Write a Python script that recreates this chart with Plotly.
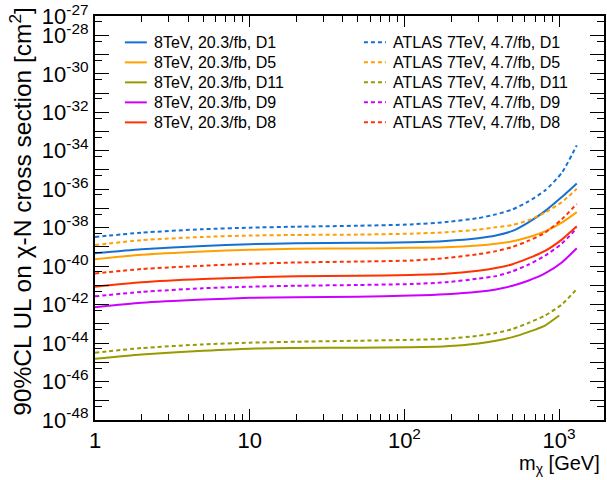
import numpy as np
import plotly.graph_objects as go

# ---- data (log10 of cross-section in cm^2) ----
masses = [1, 2, 5, 10, 20, 50, 110, 185, 300, 390, 500, 630, 810, 1040, 1300]
masses_d11_8tev = [1, 2, 5, 10, 20, 50, 110, 185, 300, 390, 500, 630, 810, 1000]

d1_8tev = [-39.33, -39.12, -38.95, -38.86, -38.81, -38.79, -38.76, -38.69, -38.55, -38.41, -38.17, -37.74, -37.14, -36.41, -35.70]
d5_8tev = [-39.64, -39.41, -39.24, -39.15, -39.10, -39.08, -39.05, -39.02, -38.93, -38.84, -38.71, -38.50, -38.19, -37.74, -37.19]
d11_8tev = [-44.81, -44.59, -44.40, -44.29, -44.26, -44.24, -44.22, -44.17, -44.02, -43.88, -43.69, -43.43, -43.09, -42.57]
d9_8tev = [-42.14, -41.91, -41.74, -41.65, -41.62, -41.59, -41.53, -41.46, -41.33, -41.21, -41.02, -40.76, -40.38, -39.81, -39.07]
d8_8tev = [-41.07, -40.84, -40.67, -40.59, -40.53, -40.50, -40.46, -40.40, -40.24, -40.10, -39.90, -39.60, -39.21, -38.62, -37.93]

d1_7tev = [-38.48, -38.26, -38.08, -38.00, -37.95, -37.90, -37.83, -37.71, -37.50, -37.31, -37.05, -36.65, -36.07, -35.15, -33.72]
d5_7tev = [-38.90, -38.65, -38.48, -38.41, -38.38, -38.36, -38.31, -38.24, -38.10, -37.98, -37.86, -37.62, -37.22, -36.67, -35.98]
d11_7tev = [-44.50, -44.26, -44.07, -43.98, -43.93, -43.88, -43.83, -43.78, -43.62, -43.48, -43.27, -42.96, -42.57, -42.00, -41.19]
d9_7tev = [-41.57, -41.34, -41.15, -41.07, -41.02, -40.98, -40.93, -40.84, -40.65, -40.52, -40.27, -39.93, -39.46, -38.83, -38.03]
d8_7tev = [-40.38, -40.15, -39.98, -39.88, -39.81, -39.76, -39.71, -39.58, -39.38, -39.22, -39.00, -38.69, -38.26, -37.57, -36.76]

labels_8tev = ["8TeV, 20.3/fb, D1", "8TeV, 20.3/fb, D5", "8TeV, 20.3/fb, D11",
               "8TeV, 20.3/fb, D9", "8TeV, 20.3/fb, D8"]
labels_7tev = ["ATLAS 7TeV, 4.7/fb, D1", "ATLAS 7TeV, 4.7/fb, D5", "ATLAS 7TeV, 4.7/fb, D11",
               "ATLAS 7TeV, 4.7/fb, D9", "ATLAS 7TeV, 4.7/fb, D8"]
colors = ["#1670D2", "#FFA000", "#999900", "#CC00FF", "#FF3300"]

x_tickvals = [1, 10, 100, 1000]
x_ticktext = ["1", "10", "10<sup>2</sup>", "10<sup>3</sup>"]
y_exponents = list(range(-48, -26))

FONT = "Liberation Sans, Arial, Helvetica, sans-serif"
DOT = "4px,3px"

# plot-area geometry (pixels) used to place the hand-built legend
L, R, T, B = 95, 606, 14, 420
def px(xp):
    return (xp - L) / (R - L)
def py(yp):
    return (B - yp) / (B - T)

fig = go.Figure()

series_8 = [(masses, d1_8tev), (masses, d5_8tev), (masses_d11_8tev, d11_8tev),
            (masses, d9_8tev), (masses, d8_8tev)]
series_7 = [d1_7tev, d5_7tev, d11_7tev, d9_7tev, d8_7tev]

for (mx, vals), lab, col in zip(series_8, labels_8tev, colors):
    fig.add_trace(go.Scatter(
        x=mx, y=10.0 ** np.array(vals), mode="lines", name=lab, showlegend=False,
        line=dict(color=col, width=2, shape="spline", smoothing=0.6)))

for vals, lab, col in zip(series_7, labels_7tev, colors):
    fig.add_trace(go.Scatter(
        x=masses, y=10.0 ** np.array(vals), mode="lines", name=lab, showlegend=False,
        line=dict(color=col, width=2, dash=DOT, shape="spline", smoothing=0.6)))

y_tickvals = [10.0 ** k for k in y_exponents]
y_ticktext = [("10<sup>%d</sup>" % k) if (k % 2 == 0 or k == -27) else "" for k in y_exponents]
y_minor = [5 * 10.0 ** k for k in range(-49, -27)]
x_minor = [m * 10 ** d for d in range(0, 4) for m in range(2, 10)]

fig.update_xaxes(
    type="log", range=[0, 3.29], showgrid=False, zeroline=False,
    showline=True, linecolor="black", linewidth=2, mirror="ticks",
    ticks="inside", ticklen=11, tickwidth=1, tickcolor="black",
    tickmode="array", tickvals=x_tickvals, ticktext=x_ticktext,
    tickfont=dict(family=FONT, size=22, color="black"),
    ticklabeloverflow="allow",
    minor=dict(ticks="inside", ticklen=6, tickwidth=1, tickcolor="black",
               tickmode="array", tickvals=x_minor, showgrid=False),
)
fig.update_yaxes(
    type="log", range=[-48, -26.995], showgrid=False, zeroline=False,
    showline=True, linecolor="black", linewidth=2, mirror="ticks",
    ticks="inside", ticklen=14, tickwidth=1, tickcolor="black",
    tickmode="array", tickvals=y_tickvals, ticktext=y_ticktext,
    tickfont=dict(family=FONT, size=22, color="black"),
    ticklabeloverflow="allow",
    minor=dict(ticks="inside", ticklen=7, tickwidth=1, tickcolor="black",
               tickmode="array", tickvals=y_minor, showgrid=False),
)

# hand-built two-column legend (keys + real text)
shapes = []
annotations = []
row0, drow = 40.5, 20.1
columns = [(125, 147, 152, labels_8tev, "solid"), (365, 387, 392, labels_7tev, DOT)]
for x0, x1, xt, labs, dash in columns:
    for i, (lab, col) in enumerate(zip(labs, colors)):
        yc = row0 + i * drow
        shapes.append(dict(type="line", xref="paper", yref="paper",
                           x0=px(x0), x1=px(x1), y0=py(yc), y1=py(yc),
                           line=dict(color=col, width=2, dash=dash)))
        annotations.append(dict(text=lab, xref="paper", yref="paper",
                                x=px(xt), y=py(yc), xanchor="left", yanchor="middle",
                                showarrow=False,
                                font=dict(family=FONT, size=16, color="black")))

annotations += [
    dict(text="90%CL UL on χ-N cross section [cm<sup>2</sup>]",
         xref="paper", yref="paper", x=px(20), y=py(3),
         xanchor="center", yanchor="top", textangle=-90, showarrow=False,
         font=dict(family=FONT, size=24.5, color="black")),
    dict(text="m<sub>χ</sub> [GeV]",
         xref="paper", yref="paper", x=px(604), y=py(465),
         xanchor="right", yanchor="middle", showarrow=False,
         font=dict(family=FONT, size=20, color="black")),
]

fig.update_layout(
    width=607, height=480,
    margin=dict(l=L, r=607 - R, t=T, b=480 - B),
    plot_bgcolor="white", paper_bgcolor="white",
    font=dict(family=FONT, color="black"),
    showlegend=False,
    hovermode=False,
    shapes=shapes,
    annotations=annotations,
)

fig.write_html("out.html", config={"displayModeBar": False},
               post_script="document.body.style.margin='0px';")
